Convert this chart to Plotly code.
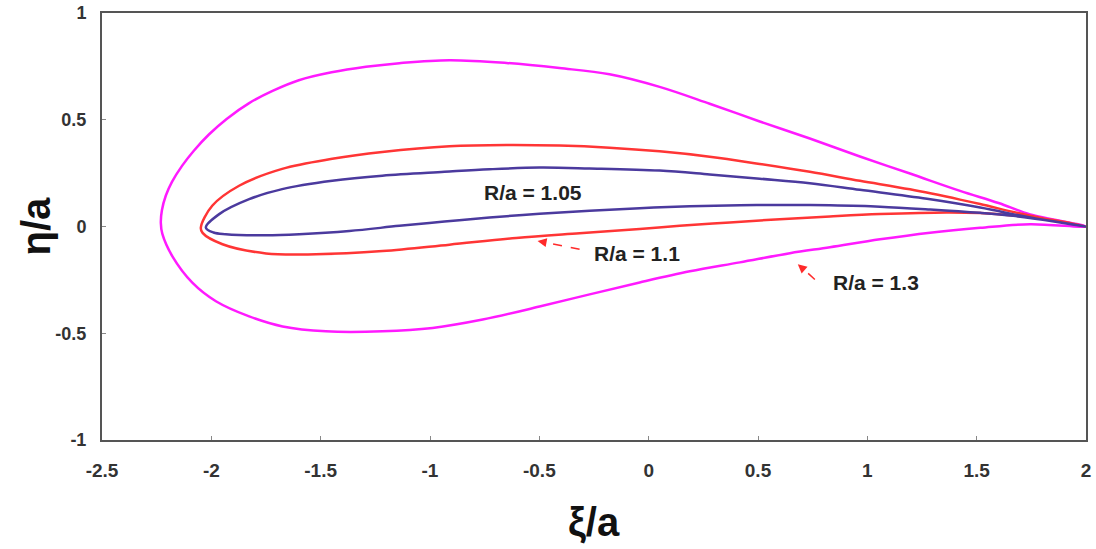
import plotly.graph_objects as go

# ---- data (xi/a, eta/a), loop: TE -> upper -> LE -> lower -> TE ----
xi_13 = [2.0, 1.745, 1.6, 1.424, 1.195, 0.966, 0.737, 0.508, 0.279, 0.050, -0.179, -0.408,
         -0.65, -0.911, -1.140, -1.293, -1.45, -1.60, -1.72, -1.827, -1.93, -2.010, -2.08,
         -2.134, -2.18, -2.208, -2.226, -2.231,
         -2.224, -2.178, -2.087, -1.979, -1.827, -1.674, -1.476, -1.217, -0.988, -0.759,
         -0.499, -0.270, -0.041, 0.188, 0.417, 0.646, 0.829, 1.058, 1.287, 1.516, 1.745, 2.0]
eta_13 = [0.0, 0.057, 0.110, 0.167, 0.248, 0.328, 0.412, 0.492, 0.575, 0.654, 0.713, 0.742,
          0.766, 0.779, 0.765, 0.748, 0.722, 0.685, 0.635, 0.578, 0.504, 0.432, 0.355,
          0.284, 0.209, 0.145, 0.076, 0.017,
          -0.035, -0.140, -0.263, -0.350, -0.421, -0.468, -0.491, -0.491, -0.475, -0.436,
          -0.375, -0.318, -0.262, -0.210, -0.168, -0.125, -0.097, -0.060, -0.029, -0.006, 0.011, 0.0]

xi_11 = [2.0, 1.745, 1.516, 1.424, 1.195, 0.966, 0.737, 0.508, 0.279, 0.050, -0.179, -0.408,
         -0.65, -0.911, -1.218, -1.447, -1.676, -1.873, -1.996, -2.048,
         -2.040, -1.949, -1.750, -1.522, -1.217, -0.911, -0.606, -0.316, -0.041, 0.142,
         0.371, 0.600, 0.829, 1.058, 1.363, 1.516, 1.667, 1.85, 2.0]
eta_11 = [0.0, 0.050, 0.105, 0.126, 0.174, 0.214, 0.256, 0.293, 0.327, 0.352, 0.369, 0.379,
          0.382, 0.376, 0.349, 0.317, 0.270, 0.191, 0.097, -0.005,
          -0.030, -0.083, -0.126, -0.130, -0.115, -0.085, -0.054, -0.032, -0.012, 0.003,
          0.019, 0.034, 0.047, 0.058, 0.066, 0.063, 0.052, 0.030, 0.0]

xi_105 = [2.0, 1.745, 1.516, 1.273, 0.966, 0.737, 0.508, 0.279, 0.050, -0.270, -0.499,
          -0.728, -0.934, -1.218, -1.447, -1.676, -1.827, -1.964, -2.025,
          -1.990, -1.934, -1.750, -1.598, -1.369, -1.140, -0.934, -0.728, -0.499, -0.270,
          -0.041, 0.188, 0.417, 0.646, 0.829, 1.058, 1.287, 1.516, 1.667, 1.85, 2.0]
eta_105 = [0.0, 0.042, 0.089, 0.130, 0.172, 0.203, 0.224, 0.244, 0.262, 0.272, 0.276,
           0.268, 0.256, 0.238, 0.214, 0.175, 0.128, 0.058, -0.005,
           -0.028, -0.036, -0.041, -0.036, -0.021, 0.003, 0.023, 0.042, 0.060, 0.074,
           0.086, 0.095, 0.100, 0.101, 0.099, 0.093, 0.080, 0.064, 0.050, 0.025, 0.0]

labels = ["R/a = 1.3", "R/a = 1.1", "R/a = 1.05"]
x_ticks = [-2.5, -2, -1.5, -1, -0.5, 0, 0.5, 1, 1.5, 2]
y_ticks = [-1, -0.5, 0, 0.5, 1]

FONT = "Liberation Sans"
fig = go.Figure()
series = [(xi_13, eta_13, "#ff1aff"), (xi_11, eta_11, "#ff3535"), (xi_105, eta_105, "#4b3a9e")]
for (xs, ys, col), name in zip(series, labels):
    fig.add_trace(go.Scatter(x=xs, y=ys, mode="lines", name=name,
                             line=dict(color=col, width=2.5, shape="spline", smoothing=1.0),
                             showlegend=False, hoverinfo="skip"))

# curve labels
lab_font = dict(family=FONT, size=21, color="#222222")
fig.add_annotation(x=-0.527, y=0.161, text="<b>R/a = 1.05</b>", showarrow=False, font=lab_font)
fig.add_annotation(x=-0.055, y=-0.126, text="<b>R/a = 1.1</b>", showarrow=False, font=lab_font)
fig.add_annotation(x=1.039, y=-0.262, text="<b>R/a = 1.3</b>", showarrow=False, font=lab_font)

# dashed red pointer arrows
fig.add_shape(type="line", x0=-0.316, y0=-0.107, x1=-0.49, y1=-0.071,
              line=dict(color="#ff2a2a", width=1.5, dash="dash"))
fig.add_annotation(x=-0.508, y=-0.068, ax=-0.47, ay=-0.075, axref="x", ayref="y",
                   text="", showarrow=True, arrowhead=2, arrowsize=1.2, arrowwidth=1.5,
                   arrowcolor="#ff2a2a")
fig.add_shape(type="line", x0=0.760, y0=-0.248, x1=0.695, y1=-0.188,
              line=dict(color="#ff2a2a", width=1.5, dash="dash"))
fig.add_annotation(x=0.682, y=-0.177, ax=0.70, ay=-0.193, axref="x", ayref="y",
                   text="", showarrow=True, arrowhead=2, arrowsize=1.2, arrowwidth=1.5,
                   arrowcolor="#ff2a2a")

# axis titles
fig.add_annotation(xref="paper", yref="paper", x=0.5, y=0, yshift=-82, xanchor="center",
                   yanchor="middle", text="<b>ξ/a</b>", showarrow=False,
                   font=dict(family=FONT, size=40, color="#111111"))
fig.add_annotation(xref="paper", yref="paper", x=0, y=0.5, xshift=-67, xanchor="center",
                   yanchor="middle", text="<b>η/a</b>", textangle=-90, showarrow=False,
                   font=dict(family=FONT, size=40, color="#111111"))

tick_font_x = dict(family=FONT, size=19, color="#333333")
tick_font_y = dict(family=FONT, size=18, color="#333333")
fig.update_xaxes(range=[-2.5, 2], tickvals=x_ticks, ticktext=[f"<b>{v:g}</b>" for v in x_ticks],
                 ticks="inside", ticklen=4, tickcolor="#888888", tickwidth=1,
                 showline=True, linecolor="#555555", linewidth=2, mirror=True, automargin=False,
                 showgrid=False, zeroline=False, tickfont=tick_font_x, ticklabelstandoff=12,
                 ticklabeloverflow="allow")
fig.update_yaxes(range=[-1, 1], tickvals=y_ticks, ticktext=[f"<b>{v:g}</b>" for v in y_ticks],
                 ticks="inside", ticklen=4, tickcolor="#888888", tickwidth=1,
                 showline=True, linecolor="#555555", linewidth=2, mirror=True, automargin=False,
                 showgrid=False, zeroline=False, tickfont=tick_font_y, ticklabelstandoff=10,
                 ticklabeloverflow="allow")
fig.update_layout(width=1096, height=549, margin=dict(l=102, r=10, t=13, b=109),
                  plot_bgcolor="white", paper_bgcolor="white")
# remove the browser's default 8 px body margin so the figure fills the window exactly
fig.write_html("out.html", config={"displayModeBar": False},
               post_script="document.body.style.margin='0';document.body.style.overflow='hidden';")
